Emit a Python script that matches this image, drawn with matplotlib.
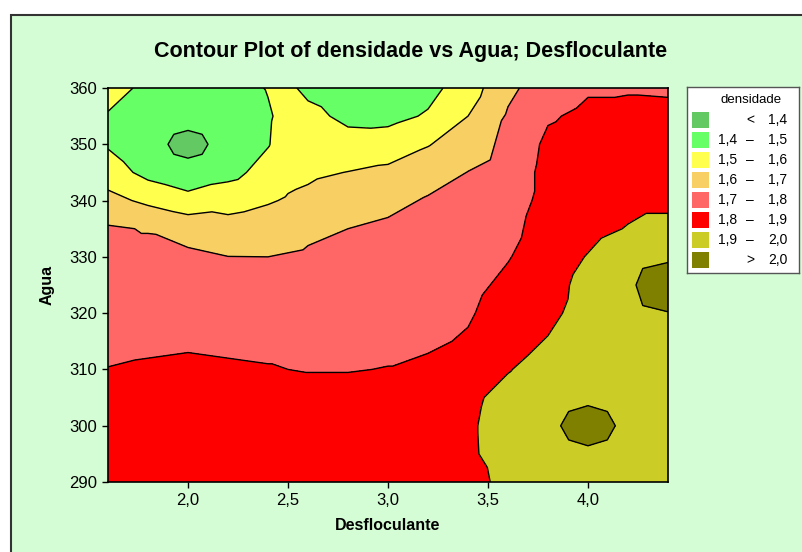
import matplotlib
matplotlib.use("Agg")
import matplotlib.pyplot as plt
import matplotlib.tri as mtri
import numpy as np
from matplotlib.patches import Rectangle
from matplotlib.ticker import FuncFormatter

# Grid of fitted densidade values: columns = Desfloculante, rows = Agua
desfloculante = [1.6, 1.8, 2.0, 2.2, 2.4, 2.5, 2.6, 2.8, 3.0, 3.2, 3.4, 3.6, 3.8, 4.0, 4.2, 4.4]
agua = [290, 295, 300, 305, 310, 315, 320, 325, 330, 335, 340, 345, 350, 355, 360]

densidade_cols = [
    [1.86, 1.85, 1.84, 1.82, 1.802, 1.78, 1.76, 1.745, 1.725, 1.71, 1.63, 1.55, 1.49, 1.49, 1.55],            # 1.6
    [1.87, 1.86, 1.845, 1.83, 1.81, 1.785, 1.765, 1.745, 1.725, 1.695, 1.58, 1.47, 1.42, 1.44, 1.47],         # 1.8
    [1.87, 1.86, 1.85, 1.835, 1.815, 1.79, 1.77, 1.75, 1.72, 1.66, 1.54, 1.42, 1.38, 1.42, 1.46],             # 2.0
    [1.87, 1.86, 1.85, 1.835, 1.81, 1.785, 1.76, 1.735, 1.701, 1.64, 1.56, 1.47, 1.42, 1.43, 1.46],           # 2.2
    [1.87, 1.86, 1.845, 1.825, 1.805, 1.78, 1.755, 1.73, 1.70, 1.66, 1.59, 1.535, 1.495, 1.49, 1.505],        # 2.4
    [1.87, 1.86, 1.845, 1.825, 1.80, 1.78, 1.755, 1.73, 1.705, 1.67, 1.61, 1.57, 1.545, 1.53, 1.52],          # 2.5
    [1.87, 1.86, 1.845, 1.825, 1.797, 1.775, 1.75, 1.73, 1.71, 1.685, 1.62, 1.585, 1.56, 1.53, 1.475],        # 2.6
    [1.87, 1.86, 1.845, 1.825, 1.797, 1.78, 1.76, 1.74, 1.72, 1.70, 1.65, 1.602, 1.54, 1.475, 1.44],          # 2.8
    [1.87, 1.86, 1.85, 1.83, 1.802, 1.785, 1.765, 1.745, 1.73, 1.72, 1.67, 1.62, 1.55, 1.47, 1.43],           # 3.0
    [1.87, 1.865, 1.855, 1.84, 1.82, 1.785, 1.77, 1.76, 1.745, 1.73, 1.71, 1.655, 1.595, 1.51, 1.47],         # 3.2
    [1.88, 1.885, 1.887, 1.88, 1.855, 1.81, 1.79, 1.775, 1.76, 1.745, 1.725, 1.702, 1.65, 1.60, 1.55],        # 3.4
    [1.916, 1.94, 1.94, 1.93, 1.895, 1.87, 1.845, 1.82, 1.795, 1.775, 1.755, 1.74, 1.725, 1.71, 1.68],        # 3.6
    [1.955, 1.97, 1.99, 1.965, 1.94, 1.905, 1.88, 1.865, 1.85, 1.84, 1.83, 1.83, 1.82, 1.79, 1.75],           # 3.8
    [1.96, 1.985, 2.03, 1.985, 1.97, 1.955, 1.935, 1.93, 1.905, 1.87, 1.86, 1.85, 1.84, 1.82, 1.79],          # 4.0
    [1.955, 1.965, 1.982, 1.975, 1.965, 1.96, 1.97, 1.99, 1.96, 1.905, 1.875, 1.86, 1.845, 1.83, 1.79],       # 4.2
    [1.95, 1.955, 1.96, 1.965, 1.975, 1.985, 1.998, 2.04, 1.99, 1.93, 1.875, 1.86, 1.85, 1.83, 1.785],        # 4.4
]

# extra readings on a ring around each of the three small extreme spots
extra_x = [2.13, 2.092, 2.0, 1.908, 1.87, 1.908, 2.0, 2.092,
           4.157, 4.111, 4.0, 3.889, 3.843, 3.889, 4.0, 4.111,
           4.258, 4.258]
extra_y = [350.0, 352.3, 353.2, 352.3, 350.0, 347.7, 346.8, 347.7,
           300.0, 302.9, 304.1, 302.9, 300.0, 297.1, 295.9, 297.1,
           328.3, 320.9]
extra_z = [1.406, 1.406, 1.406, 1.406, 1.406, 1.406, 1.406, 1.406,
           1.9955, 1.9955, 1.9955, 1.9955, 1.9955, 1.9955, 1.9955, 1.9955,
           1.995, 1.995]

levels = [1.4, 1.5, 1.6, 1.7, 1.8, 1.9, 2.0]
band_colors = ["#63c963", "#66ff66", "#ffff4d", "#f8cf63", "#ff6666", "#ff0000", "#cccc26", "#808000"]
legend_low = ["", "1,4", "1,5", "1,6", "1,7", "1,8", "1,9", ""]
legend_mid = ["<", "–", "–", "–", "–", "–", "–", ">"]
legend_high = ["1,4", "1,5", "1,6", "1,7", "1,8", "1,9", "2,0", "2,0"]

x_ticks = [2.0, 2.5, 3.0, 3.5, 4.0]
y_ticks = [290, 300, 310, 320, 330, 340, 350, 360]

plt.rcParams["font.family"] = ["Liberation Sans", "DejaVu Sans"]

W, H = 803, 552
fig = plt.figure(figsize=(W / 100, H / 100), dpi=100, facecolor="white")

# light green graph panel
fig.patches.append(Rectangle((11 / W, -0.01), 1.0, 1 - 15 / H + 0.01, transform=fig.transFigure,
                             facecolor="#d5fdd5", edgecolor="#333333", linewidth=1.5, zorder=-10))

ax = fig.add_axes([108 / W, 1 - 482 / H, 560 / W, 394 / H])
ax.set_zorder(2)

gx, gy = np.meshgrid(desfloculante, agua)
Z = np.array(densidade_cols).T
px = np.concatenate([gx.ravel(), extra_x])
py = np.concatenate([gy.ravel(), extra_y])
pz = np.concatenate([Z.ravel(), extra_z])
# triangulate on a scale where both axes are comparable, then plot in data units
scaled = mtri.Triangulation(px * 200.0, py * 5.63)
tri = mtri.Triangulation(px, py, triangles=scaled.triangles)

fill_levels = [1.0] + levels + [3.0]
ax.tricontourf(tri, pz, levels=fill_levels, colors=band_colors)
ax.tricontour(tri, pz, levels=levels, colors="black", linewidths=1.0)

ax.set_xlim(1.6, 4.4)
ax.set_ylim(290, 360)
ax.set_xticks(x_ticks)
ax.set_yticks(y_ticks)
ax.xaxis.set_major_formatter(FuncFormatter(lambda v, p: f"{v:.1f}".replace(".", ",")))
ax.tick_params(direction="out", length=4, width=1, labelsize=12, colors="black", pad=4)
for s in ax.spines.values():
    s.set_linewidth(1.2)
    s.set_color("black")

ax.set_xlabel("Desfloculante", fontsize=11.5, fontweight="bold", labelpad=7)
ax.set_ylabel("Agua", fontsize=11.5, fontweight="bold", labelpad=10)

fig.text(411 / W, 1 - 52 / H, "Contour Plot of densidade vs Agua; Desfloculante",
         ha="center", va="center", fontsize=15.5, fontweight="bold")

# legend box drawn in pixel units
lax = fig.add_axes([687 / W, 1 - 273 / H, 112 / W, 186 / H])
lax.set_zorder(2)
lax.set_xlim(687, 799)
lax.set_ylim(273, 87)
lax.set_xticks([])
lax.set_yticks([])
lax.set_facecolor("white")
for s in lax.spines.values():
    s.set_color("#555555")
    s.set_linewidth(1.0)
lax.text(751, 100, "densidade", ha="center", va="center", fontsize=9.5)
for i, c in enumerate(band_colors):
    yc = 120 + 20 * i
    lax.add_patch(Rectangle((692, yc - 8), 17, 16, facecolor=c, edgecolor="none"))
    lax.text(728, yc, legend_low[i], ha="center", va="center", fontsize=10)
    lax.text(750, yc, legend_mid[i], ha="center", va="center", fontsize=10)
    lax.text(778, yc, legend_high[i], ha="center", va="center", fontsize=10)

fig.savefig("out.png", dpi=100, facecolor=fig.get_facecolor())
